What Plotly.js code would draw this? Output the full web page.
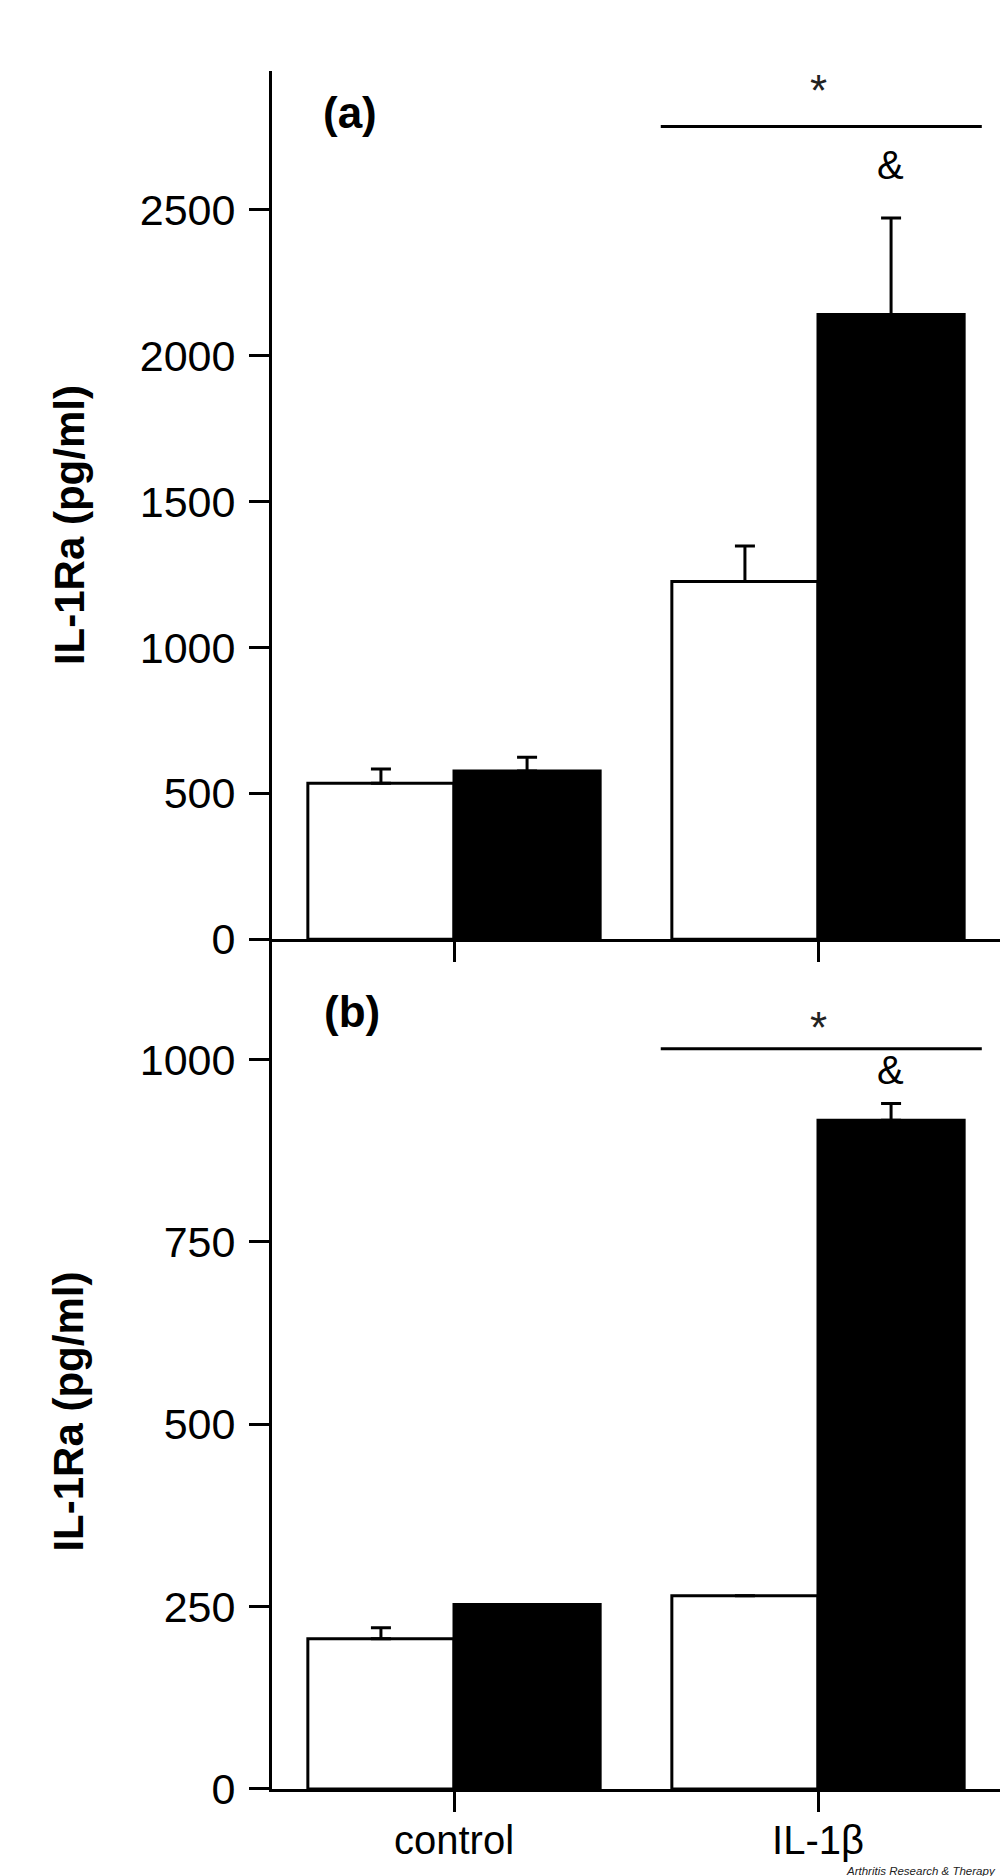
<!DOCTYPE html>
<html>
<head>
<meta charset="utf-8">
<script src="https://cdn.plot.ly/plotly-3.0.1.min.js"></script>
<style>html,body{margin:0;padding:0;background:#fff;}#chart{width:1000px;height:1876px;}</style>
</head>
<body>
<div id="chart"></div>
<script>
// ---- data ----
const categories = ["control", "IL-1\u03b2"];

// panel (a)
const aOpen = [535, 1226];
const aOpenErr = [49, 122];
const aFilled = [577, 2141];
const aFilledErr = [47, 331];

// panel (b)
const bOpen = [206, 265];
const bOpenErr = [15, 0];
const bFilled = [253, 917];
const bFilledErr = [0, 23];

const aTicks = [0, 500, 1000, 1500, 2000, 2500];
const bTicks = [0, 250, 500, 750, 1000];
const yTitle = "IL-1Ra (pg/ml)";

// ---- chart ----
const FONT = "Liberation Sans, Arial, sans-serif";
const zeros = [0, 0];

function barTrace(y, err, fill, xa, ya, name) {
  return {
    type: "bar", x: categories, y: y, name: name,
    xaxis: xa, yaxis: ya,
    marker: {color: fill, line: {color: "black", width: 3}},
    error_y: {type: "data", symmetric: false, array: err, arrayminus: zeros,
              color: "black", thickness: 3, width: 10},
    hoverinfo: "y", showlegend: false
  };
}

const traces = [
  barTrace(aOpen, aOpenErr, "white", "x", "y", "open"),
  barTrace(aFilled, aFilledErr, "black", "x", "y", "filled"),
  barTrace(bOpen, bOpenErr, "white", "x2", "y2", "open"),
  barTrace(bFilled, bFilledErr, "black", "x2", "y2", "filled")
];

const splitY = 0.4946;

const yCommon = {
  showline: true, linecolor: "black", linewidth: 3,
  ticks: "outside", ticklen: 20, tickwidth: 3, tickcolor: "black",
  ticklabelstandoff: 5,
  showgrid: false, zeroline: false,
  tickfont: {family: FONT, size: 43, color: "black"},
  fixedrange: true
};
const xCommon = {
  type: "category", range: [-0.5, 1.5],
  showline: true, linecolor: "black", linewidth: 3,
  ticks: "outside", ticklen: 20, tickwidth: 3, tickcolor: "black",
  showgrid: false, zeroline: false,
  tickfont: {family: FONT, size: 40, color: "black"},
  fixedrange: true
};

const layout = {
  width: 1000, height: 1876,
  margin: {l: 272, r: 0, t: 71, b: 87},
  paper_bgcolor: "white", plot_bgcolor: "white",
  font: {family: FONT, color: "black"},
  barmode: "group", bargap: 0.197, bargroupgap: 0,
  showlegend: false,
  xaxis: Object.assign({}, xCommon, {anchor: "y", showticklabels: false}),
  yaxis: Object.assign({}, yCommon, {domain: [splitY, 1], anchor: "x", range: [0, 2976], tickvals: aTicks}),
  xaxis2: Object.assign({}, xCommon, {anchor: "y2", ticklabelstandoff: -6}),
  yaxis2: Object.assign({}, yCommon, {domain: [0, splitY], anchor: "x2", range: [0, 1165], tickvals: bTicks}),
  shapes: [
    {type: "line", xref: "x", yref: "y", x0: 0.568, x1: 1.45, y0: 2786, y1: 2786, line: {color: "black", width: 3}},
    {type: "line", xref: "x2", yref: "y2", x0: 0.568, x1: 1.45, y0: 1015, y1: 1015, line: {color: "black", width: 3}}
  ],
  annotations: [
    {text: "<b>(a)</b>", xref: "paper", yref: "paper", x: 0.107, y: 0.9756, showarrow: false,
     xanchor: "center", yanchor: "middle", font: {family: FONT, size: 44, color: "black"}},
    {text: "<b>(b)</b>", xref: "paper", yref: "paper", x: 0.110, y: 0.4523, showarrow: false,
     xanchor: "center", yanchor: "middle", font: {family: FONT, size: 44, color: "black"}},
    {text: "*", xref: "x", yref: "y", x: 1, y: 2908, showarrow: false, yanchor: "middle",
     font: {family: FONT, size: 44, color: "#222"}},
    {text: "&", xref: "x", yref: "y", x: 1.2, y: 2654, showarrow: false, yanchor: "middle",
     font: {family: FONT, size: 40, color: "black"}},
    {text: "*", xref: "x2", yref: "y2", x: 1, y: 1044, showarrow: false, yanchor: "middle",
     font: {family: FONT, size: 44, color: "#222"}},
    {text: "&", xref: "x2", yref: "y2", x: 1.2, y: 986, showarrow: false, yanchor: "middle",
     font: {family: FONT, size: 40, color: "black"}},
    {text: "<b>" + yTitle + "</b>", xref: "paper", yref: "paper", x: -0.2788, y: 0.7357,
     textangle: -90, showarrow: false, xanchor: "center", yanchor: "middle",
     font: {family: FONT, size: 42, color: "black"}},
    {text: "<b>" + yTitle + "</b>", xref: "paper", yref: "paper", x: -0.2788, y: 0.2197,
     textangle: -90, showarrow: false, xanchor: "center", yanchor: "middle",
     font: {family: FONT, size: 42, color: "black"}},
    {text: "<i>Arthritis Research &amp; Therapy</i>", xref: "paper", yref: "paper",
     x: 0.997, y: -0.0475, showarrow: false, xanchor: "right", yanchor: "middle",
     font: {family: FONT, size: 11.5, color: "#222"}}
  ]
};

Plotly.newPlot("chart", traces, layout, {staticPlot: true, displayModeBar: false});
</script>
</body>
</html>
